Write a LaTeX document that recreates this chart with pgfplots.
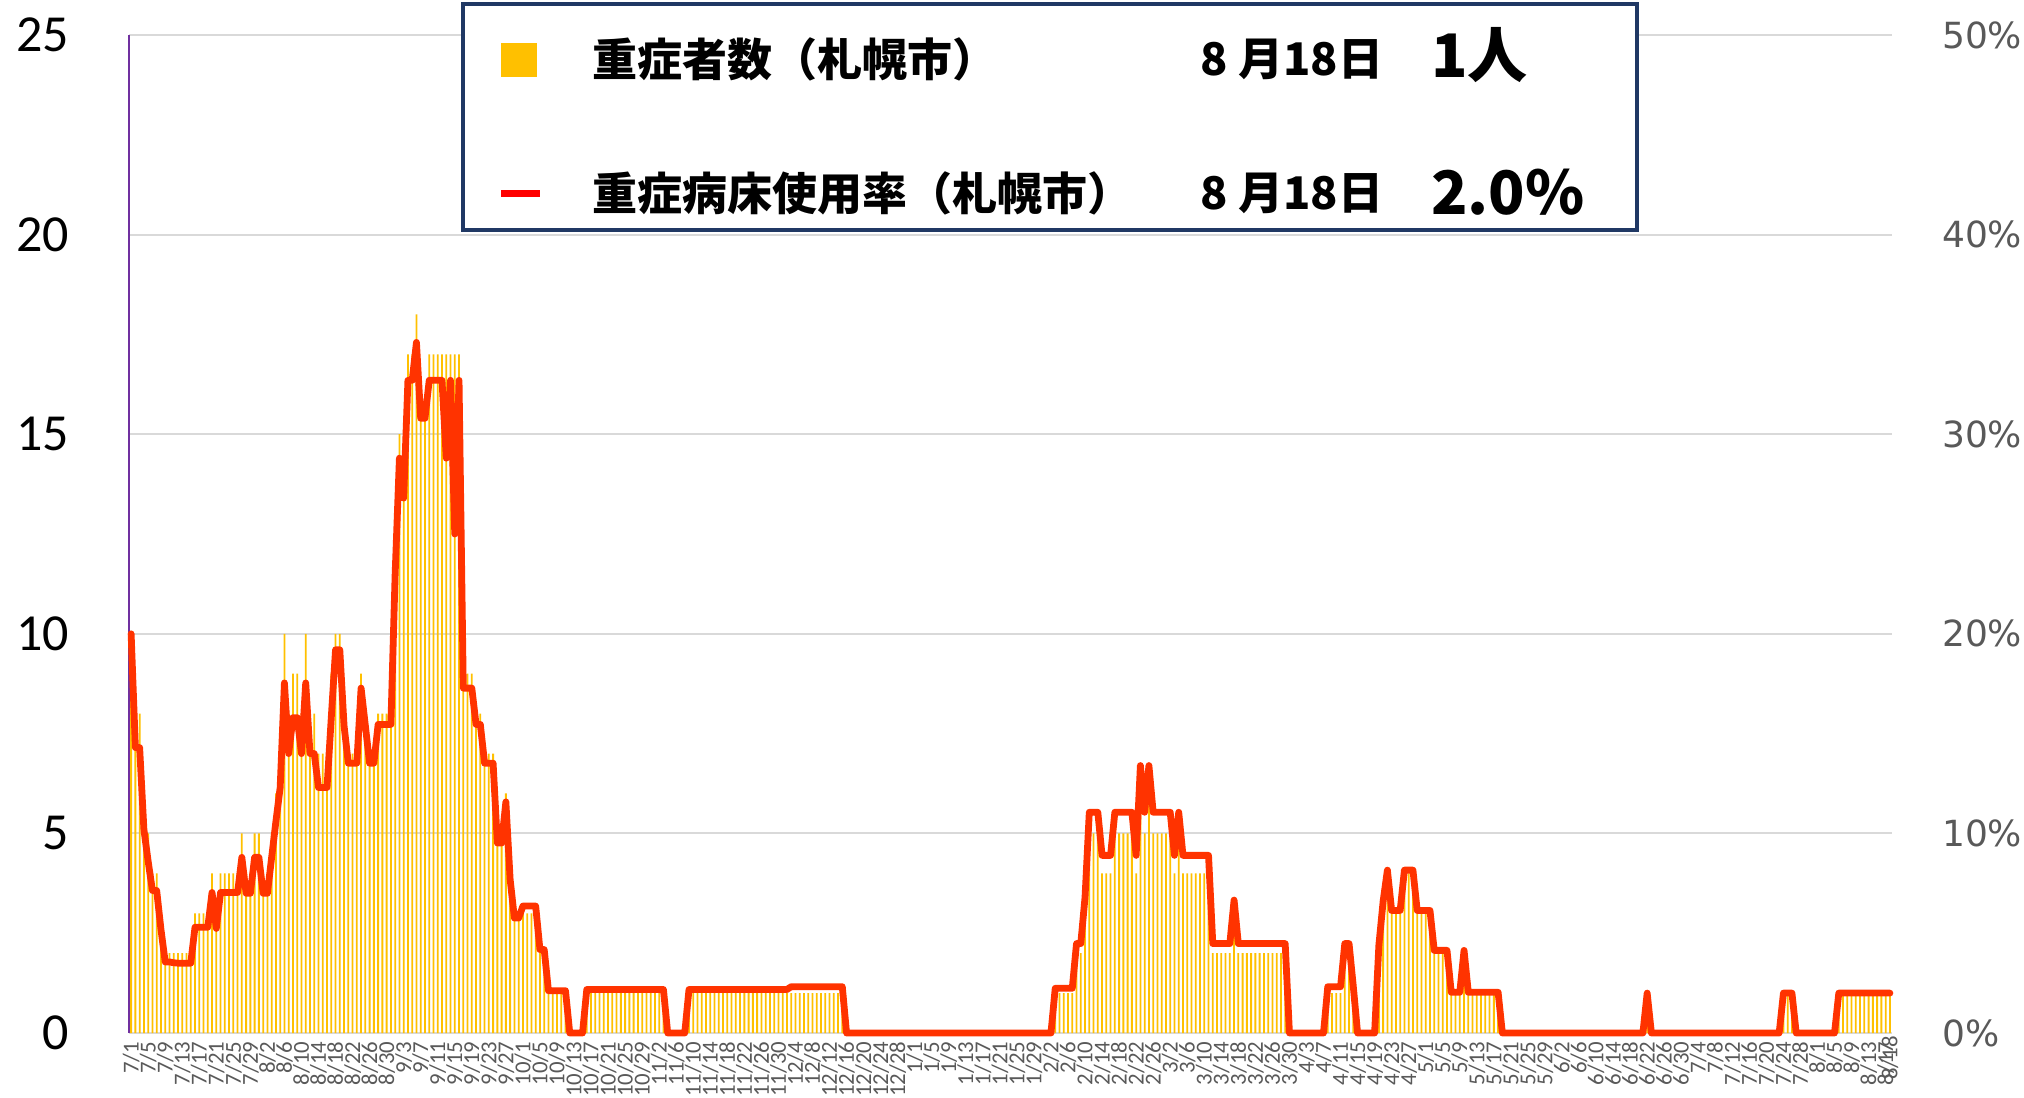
\documentclass[border=0pt]{standalone}
\usepackage{pgfplots}
\usepackage{pgfplotstable}
\pgfplotsset{compat=1.18}
\usepackage{fontspec}
\newfontfamily\carlito{Carlito}
\newfontfamily\dejavu{DejaVu Sans}
\newfontfamily\cjkb{Noto Sans CJK JP Black}
\definecolor{barY}{HTML}{FFC000}
\definecolor{lineR}{HTML}{FF3300}
\definecolor{legR}{HTML}{FF0000}
\definecolor{boxNavy}{HTML}{203864}
\definecolor{gridG}{HTML}{D9D9D9}
\definecolor{axPurple}{HTML}{7030A0}
\definecolor{labG}{HTML}{595959}

% d = days since 7/1, n = severe cases, r = severe bed occupancy (%)
\pgfplotstableread[row sep=\\]{
d n r\\
0 10 20.0\\ 1 8 14.3\\ 2 8 14.3\\ 3 6 10.2\\ 4 5 8.6\\ 5 4 7.14\\ 6 4 7.14\\ 7 3 5.2\\ 8 2 3.56\\ 9 2 3.56\\
10 2 3.52\\ 11 2 3.5\\ 12 2 3.5\\ 13 2 3.5\\ 14 2 3.5\\ 15 3 5.3\\ 16 3 5.3\\ 17 3 5.3\\ 18 3 5.3\\ 19 4 7.04\\
20 3 5.24\\ 21 4 7.04\\ 22 4 7.04\\ 23 4 7.04\\ 24 4 7.04\\ 25 4 7.04\\ 26 5 8.8\\ 27 4 7.0\\ 28 4 7.0\\ 29 5 8.8\\
30 5 8.8\\ 31 4 7.0\\ 32 4 7.0\\ 33 5 8.8\\ 34 6 10.6\\ 35 7 12.3\\ 36 10 17.54\\ 37 8 14.0\\ 38 9 15.8\\ 39 9 15.8\\
40 8 14.0\\ 41 10 17.54\\ 42 8 14.0\\ 43 8 14.0\\ 44 7 12.3\\ 45 7 12.3\\ 46 7 12.3\\ 47 9 15.8\\ 48 10 19.2\\ 49 10 19.2\\
50 8 15.4\\ 51 7 13.52\\ 52 7 13.52\\ 53 7 13.52\\ 54 9 17.28\\ 55 8 15.4\\ 56 7 13.52\\ 57 7 13.52\\ 58 8 15.46\\ 59 8 15.46\\
60 8 15.46\\ 61 8 15.46\\ 62 12 23.0\\ 63 15 28.8\\ 64 14 26.8\\ 65 17 32.7\\ 66 17 32.7\\ 67 18 34.6\\ 68 16 30.8\\ 69 16 30.8\\
70 17 32.7\\ 71 17 32.7\\ 72 17 32.7\\ 73 17 32.7\\ 74 17 28.8\\ 75 17 32.7\\ 76 17 25.0\\ 77 17 32.7\\ 78 9 17.28\\ 79 9 17.28\\
80 9 17.28\\ 81 8 15.46\\ 82 8 15.46\\ 83 7 13.52\\ 84 7 13.52\\ 85 7 13.52\\ 86 5 9.52\\ 87 5 9.52\\ 88 6 11.58\\ 89 4 7.7\\
90 3 5.76\\ 91 3 5.76\\ 92 3 6.36\\ 93 3 6.36\\ 94 3 6.36\\ 95 3 6.36\\ 96 2 4.18\\ 97 2 4.18\\ 98 1 2.12\\ 99 1 2.12\\
100 1 2.12\\ 101 1 2.12\\ 102 1 2.12\\ 103 0 0\\ 104 0 0\\ 105 0 0\\ 106 0 0\\ 107 1 2.18\\ 108 1 2.18\\ 109 1 2.18\\
110 1 2.18\\ 111 1 2.18\\ 112 1 2.18\\ 113 1 2.18\\ 114 1 2.18\\ 115 1 2.18\\ 116 1 2.18\\ 117 1 2.18\\ 118 1 2.18\\ 119 1 2.18\\
120 1 2.18\\ 121 1 2.18\\ 122 1 2.18\\ 123 1 2.18\\ 124 1 2.18\\ 125 1 2.18\\ 126 0 0\\ 127 0 0\\ 128 0 0\\ 129 0 0\\
130 0 0\\ 131 1 2.18\\ 132 1 2.18\\ 133 1 2.18\\ 134 1 2.18\\ 135 1 2.18\\ 136 1 2.18\\ 137 1 2.18\\ 138 1 2.18\\ 139 1 2.18\\
140 1 2.18\\ 141 1 2.18\\ 142 1 2.18\\ 143 1 2.18\\ 144 1 2.18\\ 145 1 2.18\\ 146 1 2.18\\ 147 1 2.18\\ 148 1 2.18\\ 149 1 2.18\\
150 1 2.18\\ 151 1 2.18\\ 152 1 2.18\\ 153 1 2.18\\ 154 1 2.18\\ 155 1 2.32\\ 156 1 2.32\\ 157 1 2.32\\ 158 1 2.32\\ 159 1 2.32\\
160 1 2.32\\ 161 1 2.32\\ 162 1 2.32\\ 163 1 2.32\\ 164 1 2.32\\ 165 1 2.32\\ 166 1 2.32\\ 167 1 2.32\\ 168 0 0\\ 169 0 0\\
170 0 0\\ 171 0 0\\ 172 0 0\\ 173 0 0\\ 174 0 0\\ 175 0 0\\ 176 0 0\\ 177 0 0\\ 178 0 0\\ 179 0 0\\
180 0 0\\ 181 0 0\\ 182 0 0\\ 183 0 0\\ 184 0 0\\ 185 0 0\\ 186 0 0\\ 187 0 0\\ 188 0 0\\ 189 0 0\\
190 0 0\\ 191 0 0\\ 192 0 0\\ 193 0 0\\ 194 0 0\\ 195 0 0\\ 196 0 0\\ 197 0 0\\ 198 0 0\\ 199 0 0\\
200 0 0\\ 201 0 0\\ 202 0 0\\ 203 0 0\\ 204 0 0\\ 205 0 0\\ 206 0 0\\ 207 0 0\\ 208 0 0\\ 209 0 0\\
210 0 0\\ 211 0 0\\ 212 0 0\\ 213 0 0\\ 214 0 0\\ 215 0 0\\ 216 0 0\\ 217 1 2.24\\ 218 1 2.24\\ 219 1 2.24\\
220 1 2.24\\ 221 1 2.24\\ 222 2 4.48\\ 223 2 4.48\\ 224 3 6.8\\ 225 5 11.06\\ 226 5 11.06\\ 227 5 11.06\\ 228 4 8.9\\ 229 4 8.9\\
230 4 8.9\\ 231 5 11.06\\ 232 5 11.06\\ 233 5 11.06\\ 234 5 11.06\\ 235 5 11.06\\ 236 4 8.9\\ 237 6 13.4\\ 238 5 11.06\\ 239 6 13.4\\
240 5 11.06\\ 241 5 11.06\\ 242 5 11.06\\ 243 5 11.06\\ 244 5 11.06\\ 245 4 8.9\\ 246 5 11.06\\ 247 4 8.9\\ 248 4 8.9\\ 249 4 8.9\\
250 4 8.9\\ 251 4 8.9\\ 252 4 8.9\\ 253 4 8.9\\ 254 2 4.48\\ 255 2 4.48\\ 256 2 4.48\\ 257 2 4.48\\ 258 2 4.48\\ 259 3 6.66\\
260 2 4.48\\ 261 2 4.48\\ 262 2 4.48\\ 263 2 4.48\\ 264 2 4.48\\ 265 2 4.48\\ 266 2 4.48\\ 267 2 4.48\\ 268 2 4.48\\ 269 2 4.48\\
270 2 4.48\\ 271 2 4.48\\ 272 0 0\\ 273 0 0\\ 274 0 0\\ 275 0 0\\ 276 0 0\\ 277 0 0\\ 278 0 0\\ 279 0 0\\
280 0 0\\ 281 1 2.32\\ 282 1 2.32\\ 283 1 2.32\\ 284 1 2.32\\ 285 2 4.48\\ 286 2 4.48\\ 287 1 2.32\\ 288 0 0\\ 289 0 0\\
290 0 0\\ 291 0 0\\ 292 0 0\\ 293 2 4.4\\ 294 3 6.6\\ 295 4 8.16\\ 296 3 6.14\\ 297 3 6.14\\ 298 3 6.14\\ 299 4 8.16\\
300 4 8.16\\ 301 4 8.16\\ 302 3 6.14\\ 303 3 6.14\\ 304 3 6.14\\ 305 3 6.14\\ 306 2 4.14\\ 307 2 4.14\\ 308 2 4.14\\ 309 2 4.14\\
310 1 2.04\\ 311 1 2.04\\ 312 1 2.04\\ 313 2 4.14\\ 314 1 2.04\\ 315 1 2.04\\ 316 1 2.04\\ 317 1 2.04\\ 318 1 2.04\\ 319 1 2.04\\
320 1 2.04\\ 321 1 2.04\\ 322 0 0\\ 323 0 0\\ 324 0 0\\ 325 0 0\\ 326 0 0\\ 327 0 0\\ 328 0 0\\ 329 0 0\\
330 0 0\\ 331 0 0\\ 332 0 0\\ 333 0 0\\ 334 0 0\\ 335 0 0\\ 336 0 0\\ 337 0 0\\ 338 0 0\\ 339 0 0\\
340 0 0\\ 341 0 0\\ 342 0 0\\ 343 0 0\\ 344 0 0\\ 345 0 0\\ 346 0 0\\ 347 0 0\\ 348 0 0\\ 349 0 0\\
350 0 0\\ 351 0 0\\ 352 0 0\\ 353 0 0\\ 354 0 0\\ 355 0 0\\ 356 1 2.0\\ 357 0 0\\ 358 0 0\\ 359 0 0\\
360 0 0\\ 361 0 0\\ 362 0 0\\ 363 0 0\\ 364 0 0\\ 365 0 0\\ 366 0 0\\ 367 0 0\\ 368 0 0\\ 369 0 0\\
370 0 0\\ 371 0 0\\ 372 0 0\\ 373 0 0\\ 374 0 0\\ 375 0 0\\ 376 0 0\\ 377 0 0\\ 378 0 0\\ 379 0 0\\
380 0 0\\ 381 0 0\\ 382 0 0\\ 383 0 0\\ 384 0 0\\ 385 0 0\\ 386 0 0\\ 387 0 0\\ 388 1 2.0\\ 389 1 2.0\\
390 1 2.0\\ 391 0 0\\ 392 0 0\\ 393 0 0\\ 394 0 0\\ 395 0 0\\ 396 0 0\\ 397 0 0\\ 398 0 0\\ 399 0 0\\
400 0 0\\ 401 1 2.0\\ 402 1 2.0\\ 403 1 2.0\\ 404 1 2.0\\ 405 1 2.0\\ 406 1 2.0\\ 407 1 2.0\\ 408 1 2.0\\ 409 1 2.0\\
410 1 2.0\\ 411 1 2.0\\ 412 1 2.0\\ 413 1 2.0\\
}\data

\begin{document}
\begin{tikzpicture}
\useasboundingbox (0,0) rectangle (506pt,274.25pt);
\begin{axis}[
  at={(32.25pt,16pt)}, anchor=south west,
  width=440.75pt, height=249.5pt, scale only axis,
  xmin=-0.5, xmax=413.5, ymin=0, ymax=25,
  axis x line*=bottom, axis y line*=left,
  x axis line style={draw=none},
  y axis line style={draw=axPurple, line width=0.5pt, -},
  major tick length=0pt,
  ytick={0,5,...,25},
  ymajorgrids, grid style={draw=gridG, line width=0.5pt},
  /pgf/number format/assume math mode=true,
  yticklabel style={font=\carlito\fontsize{13}{13}\selectfont, text=black, xshift=-11.5pt},
  xtick={0,4,...,412},
  xticklabels={7/1,7/5,7/9,7/13,7/17,7/21,7/25,7/29,
    8/2,8/6,8/10,8/14,8/18,8/22,8/26,8/30,
    9/3,9/7,9/11,9/15,9/19,9/23,9/27,
    10/1,10/5,10/9,10/13,10/17,10/21,10/25,10/29,
    11/2,11/6,11/10,11/14,11/18,11/22,11/26,11/30,
    12/4,12/8,12/12,12/16,12/20,12/24,12/28,
    1/1,1/5,1/9,1/13,1/17,1/21,1/25,1/29,
    2/2,2/6,2/10,2/14,2/18,2/22,2/26,
    3/2,3/6,3/10,3/14,3/18,3/22,3/26,3/30,
    4/3,4/7,4/11,4/15,4/19,4/23,4/27,
    5/1,5/5,5/9,5/13,5/17,5/21,5/25,5/29,
    6/2,6/6,6/10,6/14,6/18,6/22,6/26,6/30,
    7/4,7/8,7/12,7/16,7/20,7/24,7/28,
    8/1,8/5,8/9,8/13,8/17},
  xticklabel style={font=\carlito\fontsize{5.7}{5.7}\selectfont, text=labG, yshift=-1pt, rotate=90, anchor=east, inner sep=1pt},
  extra x ticks={413}, extra x tick labels={8/18},
  extra x tick style={xticklabel style={xshift=1.4pt}},
]
\addplot[ybar, bar width=0.42, fill=barY, draw=none] table[x=d, y=n] {\data};
\end{axis}
\begin{axis}[
  at={(32.25pt,16pt)}, anchor=south west,
  width=440.75pt, height=249.5pt, scale only axis,
  xmin=-0.5, xmax=413.5, ymin=0, ymax=50,
  axis x line=none, axis y line*=right,
  y axis line style={draw=none},
  major tick length=0pt,
  ytick={0,10,...,50},
  yticklabel={\pgfmathprintnumber{\tick}\%},
  /pgf/number format/assume math mode=true,
  yticklabel style={font=\dejavu\fontsize{9}{9}\selectfont, text=labG, xshift=9pt},
  clip=false,
]
\addplot[color=lineR, line width=1.7pt, line join=round, line cap=round, mark=none] table[x=d, y=r] {\data};
\end{axis}
% legend box
\draw[boxNavy, line width=1pt, fill=white] (115.75pt,216.75pt) rectangle (409.25pt,273.25pt);
\fill[barY] (125.25pt,255pt) rectangle (134.25pt,263.5pt);
\fill[legR] (125.25pt,225pt) rectangle (135pt,226.75pt);
\node[anchor=west, inner sep=0] at (147.8pt,259.5pt) {\cjkb\fontsize{11.25}{12}\selectfont 重症者数（札幌市）};
\node[anchor=west, inner sep=0] at (300pt,259.5pt) {\cjkb\fontsize{11.25}{12}\selectfont 8 月18日};
\node[anchor=west, inner sep=0] at (357.6pt,260.5pt) {\cjkb\fontsize{15}{15}\selectfont 1人};
\node[anchor=west, inner sep=0] at (147.8pt,225.8pt) {\cjkb\fontsize{11.25}{12}\selectfont 重症病床使用率（札幌市）};
\node[anchor=west, inner sep=0] at (300pt,225.8pt) {\cjkb\fontsize{11.25}{12}\selectfont 8 月18日};
\node[anchor=west, inner sep=0] at (357.6pt,226.3pt) {\cjkb\fontsize{15}{15}\selectfont 2.0\%};
\end{tikzpicture}
\end{document}
